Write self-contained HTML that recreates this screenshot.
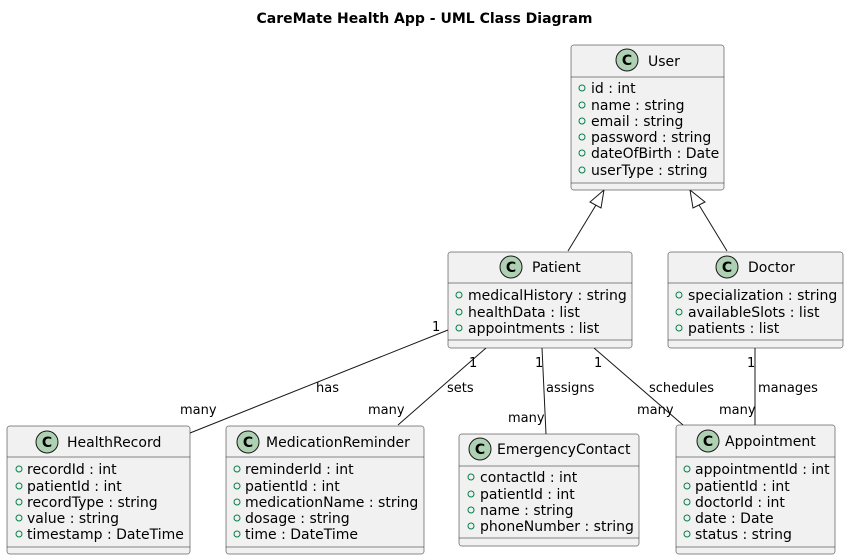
<!DOCTYPE html>
<html><head><meta charset="utf-8"><style>
html,body{margin:0;padding:0;background:#fff;}
svg{display:block;font-family:"DejaVu Sans","Liberation Sans",sans-serif;}
.t{font-size:14px;fill:#000;}
.a{font-size:14px;fill:#000;}
.l{font-size:13px;fill:#000;}
.box{fill:#F1F1F1;stroke:#181818;stroke-width:0.5;}
.sep{stroke:#181818;stroke-width:0.5;}
.ln{stroke:#181818;stroke-width:1;fill:none;}
.ci{fill:#ADD1B2;stroke:#181818;stroke-width:1;}
.v{fill:none;stroke:#038048;stroke-width:1;}
.C{font-size:14px;font-weight:bold;fill:#000;}
</style></head><body>
<svg width="849" height="560" viewBox="0 0 849 560" xmlns="http://www.w3.org/2000/svg">
<text x="424.5" y="23" text-anchor="middle" style="font-size:14px;font-weight:bold">CareMate Health App - UML Class Diagram</text>

<line class="ln" x1="596" y1="205" x2="568" y2="251"/>
<polygon points="604,190 590,202 601,208" fill="#fff" stroke="#181818"/>
<line class="ln" x1="699" y1="205" x2="727" y2="251"/>
<polygon points="690,190 693,208 705,202" fill="#fff" stroke="#181818"/>

<line class="ln" x1="448" y1="330" x2="190" y2="433"/>
<line class="ln" x1="486" y1="348" x2="398" y2="425"/>
<line class="ln" x1="542" y1="348" x2="546" y2="434"/>
<line class="ln" x1="594" y1="348" x2="683" y2="425"/>
<line class="ln" x1="755" y1="348" x2="755" y2="425"/>

<g class="l">
<text x="432" y="331">1</text>
<text x="180" y="414">many</text>
<text x="316" y="392">has</text>
<text x="469" y="367">1</text>
<text x="447" y="392">sets</text>
<text x="368" y="414">many</text>
<text x="535" y="367">1</text>
<text x="546" y="392">assigns</text>
<text x="508" y="422">many</text>
<text x="594" y="367">1</text>
<text x="649" y="392">schedules</text>
<text x="637" y="414">many</text>
<text x="747" y="367">1</text>
<text x="758" y="392">manages</text>
<text x="719" y="414">many</text>
</g>

<rect class="box" x="571" y="45" width="153" height="145" rx="2.5"/>
<line class="sep" x1="571" y1="77" x2="724" y2="77"/>
<line class="sep" x1="571" y1="183" x2="724" y2="183"/>
<circle class="ci" cx="627" cy="60" r="11"/><text class="C" x="627" y="65" text-anchor="middle">C</text>
<text class="t" x="648" y="66">User</text>
<g class="a">
<circle class="v" cx="582" cy="88" r="3"/><text x="591" y="93">id : int</text>
<circle class="v" cx="582" cy="105" r="3"/><text x="591" y="110">name : string</text>
<circle class="v" cx="582" cy="121" r="3"/><text x="591" y="126">email : string</text>
<circle class="v" cx="582" cy="137" r="3"/><text x="591" y="142">password : string</text>
<circle class="v" cx="582" cy="153" r="3"/><text x="591" y="158">dateOfBirth : Date</text>
<circle class="v" cx="582" cy="170" r="3"/><text x="591" y="175">userType : string</text>
</g>

<rect class="box" x="448" y="252" width="184" height="96" rx="2.5"/>
<line class="sep" x1="448" y1="283" x2="632" y2="283"/>
<line class="sep" x1="448" y1="340" x2="632" y2="340"/>
<circle class="ci" cx="511" cy="267" r="11"/><text class="C" x="511" y="272" text-anchor="middle">C</text>
<text class="t" x="532" y="272">Patient</text>
<g class="a">
<circle class="v" cx="459" cy="295" r="3"/><text x="468" y="300">medicalHistory : string</text>
<circle class="v" cx="459" cy="312" r="3"/><text x="468" y="317">healthData : list</text>
<circle class="v" cx="459" cy="328" r="3"/><text x="468" y="333">appointments : list</text>
</g>

<rect class="box" x="668" y="252" width="175" height="96" rx="2.5"/>
<line class="sep" x1="668" y1="283" x2="843" y2="283"/>
<line class="sep" x1="668" y1="340" x2="843" y2="340"/>
<circle class="ci" cx="727" cy="267" r="11"/><text class="C" x="727" y="272" text-anchor="middle">C</text>
<text class="t" x="748" y="272">Doctor</text>
<g class="a">
<circle class="v" cx="679" cy="295" r="3"/><text x="688" y="300">specialization : string</text>
<circle class="v" cx="679" cy="312" r="3"/><text x="688" y="317">availableSlots : list</text>
<circle class="v" cx="679" cy="328" r="3"/><text x="688" y="333">patients : list</text>
</g>

<rect class="box" x="7" y="426" width="183" height="128" rx="2.5"/>
<line class="sep" x1="7" y1="457" x2="190" y2="457"/>
<line class="sep" x1="7" y1="547" x2="190" y2="547"/>
<circle class="ci" cx="47" cy="442" r="11"/><text class="C" x="47" y="447" text-anchor="middle">C</text>
<text class="t" x="67" y="447">HealthRecord</text>
<g class="a">
<circle class="v" cx="19" cy="469" r="3"/><text x="27" y="474">recordId : int</text>
<circle class="v" cx="19" cy="486" r="3"/><text x="27" y="491">patientId : int</text>
<circle class="v" cx="19" cy="502" r="3"/><text x="27" y="507">recordType : string</text>
<circle class="v" cx="19" cy="518" r="3"/><text x="27" y="523">value : string</text>
<circle class="v" cx="19" cy="534" r="3"/><text x="27" y="539">timestamp : DateTime</text>
</g>

<rect class="box" x="226" y="426" width="198" height="128" rx="2.5"/>
<line class="sep" x1="226" y1="457" x2="424" y2="457"/>
<line class="sep" x1="226" y1="547" x2="424" y2="547"/>
<circle class="ci" cx="248" cy="442" r="11"/><text class="C" x="248" y="447" text-anchor="middle">C</text>
<text class="t" x="266" y="447">MedicationReminder</text>
<g class="a">
<circle class="v" cx="237" cy="469" r="3"/><text x="245" y="474">reminderId : int</text>
<circle class="v" cx="237" cy="486" r="3"/><text x="245" y="491">patientId : int</text>
<circle class="v" cx="237" cy="502" r="3"/><text x="245" y="507">medicationName : string</text>
<circle class="v" cx="237" cy="518" r="3"/><text x="245" y="523">dosage : string</text>
<circle class="v" cx="237" cy="534" r="3"/><text x="245" y="539">time : DateTime</text>
</g>

<rect class="box" x="459" y="434" width="180" height="112" rx="2.5"/>
<line class="sep" x1="459" y1="466" x2="639" y2="466"/>
<line class="sep" x1="459" y1="538" x2="639" y2="538"/>
<circle class="ci" cx="480" cy="449" r="11"/><text class="C" x="480" y="454" text-anchor="middle">C</text>
<text class="t" x="497" y="454">EmergencyContact</text>
<g class="a">
<circle class="v" cx="471" cy="477" r="3"/><text x="480" y="482">contactId : int</text>
<circle class="v" cx="471" cy="494" r="3"/><text x="480" y="499">patientId : int</text>
<circle class="v" cx="471" cy="510" r="3"/><text x="480" y="515">name : string</text>
<circle class="v" cx="471" cy="526" r="3"/><text x="480" y="531">phoneNumber : string</text>
</g>

<rect class="box" x="676" y="425" width="159" height="129" rx="2.5"/>
<line class="sep" x1="676" y1="457" x2="835" y2="457"/>
<line class="sep" x1="676" y1="547" x2="835" y2="547"/>
<circle class="ci" cx="708" cy="441" r="11"/><text class="C" x="708" y="446" text-anchor="middle">C</text>
<text class="t" x="725" y="446">Appointment</text>
<g class="a">
<circle class="v" cx="687" cy="469" r="3"/><text x="695" y="474">appointmentId : int</text>
<circle class="v" cx="687" cy="486" r="3"/><text x="695" y="491">patientId : int</text>
<circle class="v" cx="687" cy="502" r="3"/><text x="695" y="507">doctorId : int</text>
<circle class="v" cx="687" cy="518" r="3"/><text x="695" y="523">date : Date</text>
<circle class="v" cx="687" cy="534" r="3"/><text x="695" y="539">status : string</text>
</g>
</svg>
</body></html>
